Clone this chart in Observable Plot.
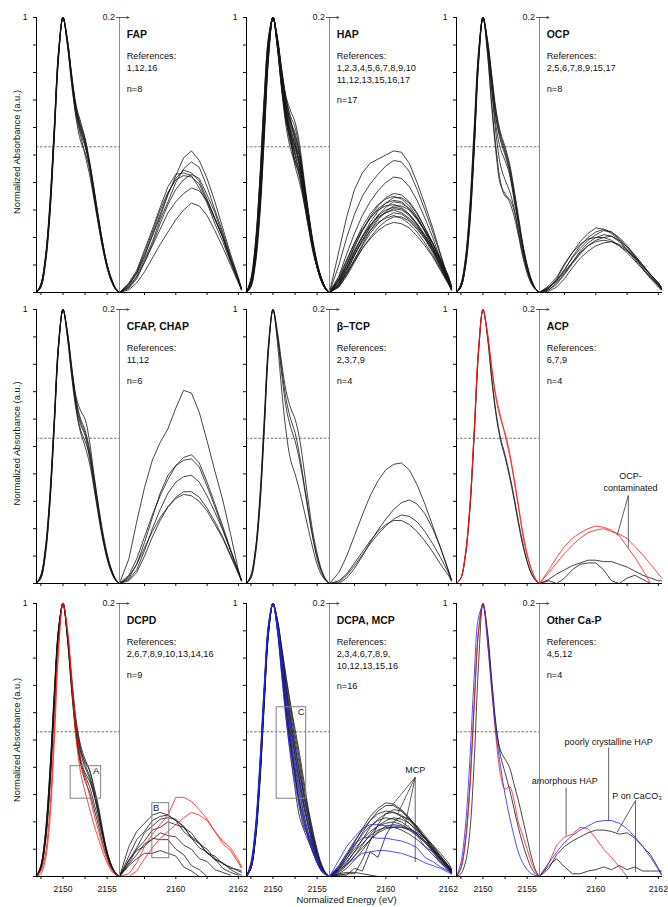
<!DOCTYPE html>
<html><head><meta charset="utf-8">
<script src="https://cdn.jsdelivr.net/npm/d3@7"></script>
<script src="https://cdn.jsdelivr.net/npm/@observablehq/plot@0.6"></script>
<style>
body{margin:0;background:#fff;}
#chart{position:relative;width:668px;height:907px;background:#fff;}
#chart svg{position:absolute;}
</style></head><body><div id="chart"></div>
<script>
// ---------- shared grids / ticks ----------
const LEFT_E = [2147, 2147.5, 2148, 2148.5, 2149, 2149.5, 2150, 2150.5, 2151, 2151.5, 2152, 2152.5, 2153, 2153.5, 2154, 2154.5, 2155, 2155.5, 2156, 2156.4];
const RIGHT_E = [2158.2, 2158.5, 2158.75, 2159, 2159.25, 2159.5, 2159.75, 2160, 2160.25, 2160.5, 2160.75, 2161, 2161.25, 2161.5, 2161.75, 2162, 2162.1];
const X_DOMAIN = [2147, 2156.4, 2158.2, 2162.1];
const X_TICKS = [2147.5, 2150, 2152.5, 2155, 2159, 2160, 2161, 2162];
const X_TICK_LABELS = [2150, 2155, 2160, 2162];
const Y_TICKS = [0, 0.1, 0.2, 0.3, 0.4, 0.5, 0.6, 0.7, 0.8, 0.9, 1];
const RIGHT_TOP = 0.2;
const DASH_LEVEL = 0.53;
const TEXT_E = 2158.43;

// ---------- FAP ----------
const FAP_refs = ["1,12,16"];
const FAP_colors = ["k","k","k","k","k","k","k","k"];
const FAP_left = [
[0,0.03,0.12,0.30,0.58,0.87,1,0.91,0.77,0.66,0.60,0.54,0.46,0.36,0.26,0.17,0.10,0.045,0.012,0],
[0,0.02,0.10,0.27,0.55,0.85,1,0.92,0.79,0.68,0.62,0.56,0.47,0.37,0.27,0.18,0.10,0.05,0.015,0],
[0,0.03,0.13,0.32,0.60,0.88,1,0.90,0.75,0.64,0.57,0.50,0.43,0.34,0.25,0.16,0.09,0.04,0.01,0],
[0,0.02,0.11,0.29,0.57,0.86,1,0.92,0.78,0.66,0.58,0.53,0.47,0.38,0.28,0.18,0.10,0.045,0.012,0],
[0,0.03,0.12,0.31,0.59,0.88,1,0.90,0.76,0.63,0.55,0.51,0.45,0.36,0.26,0.17,0.09,0.04,0.01,0],
[0,0.02,0.11,0.28,0.56,0.86,1,0.92,0.78,0.67,0.61,0.56,0.48,0.38,0.27,0.18,0.10,0.05,0.012,0],
[0,0.03,0.12,0.30,0.58,0.87,1,0.91,0.77,0.65,0.59,0.54,0.46,0.35,0.25,0.16,0.09,0.04,0.01,0],
[0,0.02,0.11,0.29,0.57,0.87,1,0.91,0.78,0.67,0.60,0.55,0.47,0.37,0.27,0.17,0.10,0.045,0.012,0]];
const FAP_right = [
[0,0.006,0.014,0.027,0.041,0.055,0.071,0.085,0.098,0.103,0.096,0.083,0.066,0.047,0.028,0.011,0.003],
[0,0.004,0.012,0.024,0.037,0.053,0.066,0.080,0.090,0.095,0.091,0.077,0.060,0.044,0.026,0.010,0.003],
[0,0.005,0.014,0.026,0.042,0.057,0.072,0.083,0.089,0.087,0.081,0.068,0.054,0.041,0.024,0.009,0.002],
[0,0.007,0.016,0.031,0.046,0.062,0.077,0.086,0.087,0.085,0.076,0.065,0.050,0.037,0.022,0.008,0.002],
[0,0.003,0.010,0.022,0.035,0.050,0.064,0.075,0.082,0.086,0.083,0.071,0.058,0.042,0.025,0.009,0.003],
[0,0.006,0.015,0.029,0.044,0.060,0.073,0.082,0.085,0.084,0.079,0.066,0.053,0.040,0.023,0.009,0.002],
[0,0.004,0.011,0.022,0.034,0.046,0.058,0.066,0.072,0.076,0.074,0.067,0.054,0.040,0.024,0.008,0.002],
[0,0.002,0.007,0.015,0.025,0.035,0.044,0.053,0.060,0.065,0.063,0.056,0.045,0.033,0.020,0.007,0.002]];

// ---------- HAP ----------
const HAP_refs = ["1,2,3,4,5,6,7,8,9,10", "11,12,13,15,16,17"];
const HAP_colors = ["k","k","k","k","k","k","k","k","k","k","k","k","k","k","k","k","k"];
const HAP_left = [
[0,0.03,0.12,0.30,0.58,0.87,1,0.92,0.80,0.70,0.64,0.60,0.52,0.40,0.29,0.19,0.11,0.05,0.015,0],
[0,0.04,0.15,0.36,0.65,0.90,1,0.90,0.76,0.64,0.57,0.50,0.44,0.35,0.25,0.16,0.09,0.04,0.01,0],
[0,0.03,0.13,0.33,0.62,0.89,1,0.91,0.77,0.65,0.56,0.46,0.40,0.33,0.24,0.16,0.09,0.04,0.01,0],
[0,0.05,0.17,0.40,0.70,0.93,1,0.89,0.74,0.62,0.54,0.48,0.42,0.34,0.25,0.16,0.09,0.04,0.01,0],
[0,0.02,0.10,0.27,0.55,0.85,1,0.93,0.81,0.71,0.66,0.62,0.54,0.42,0.30,0.19,0.11,0.05,0.015,0],
[0,0.03,0.13,0.32,0.61,0.88,1,0.91,0.78,0.67,0.60,0.53,0.47,0.37,0.27,0.17,0.10,0.045,0.012,0],
[0,0.04,0.14,0.35,0.64,0.90,1,0.90,0.76,0.64,0.55,0.48,0.45,0.37,0.27,0.17,0.10,0.045,0.012,0],
[0,0.03,0.12,0.31,0.60,0.88,1,0.92,0.79,0.68,0.61,0.56,0.49,0.38,0.28,0.18,0.10,0.05,0.012,0],
[0,0.04,0.16,0.38,0.67,0.91,1,0.90,0.75,0.63,0.56,0.51,0.46,0.37,0.27,0.17,0.10,0.045,0.012,0],
[0,0.03,0.12,0.30,0.59,0.87,1,0.92,0.80,0.69,0.62,0.57,0.51,0.40,0.29,0.18,0.10,0.05,0.015,0],
[0,0.05,0.18,0.41,0.71,0.93,1,0.89,0.73,0.60,0.52,0.47,0.43,0.35,0.26,0.17,0.10,0.045,0.012,0],
[0,0.03,0.13,0.33,0.62,0.89,1,0.91,0.78,0.66,0.58,0.52,0.48,0.39,0.28,0.18,0.10,0.05,0.012,0],
[0,0.02,0.11,0.29,0.57,0.86,1,0.92,0.80,0.70,0.63,0.55,0.47,0.38,0.28,0.18,0.10,0.045,0.012,0],
[0,0.04,0.15,0.36,0.66,0.91,1,0.90,0.76,0.65,0.58,0.53,0.50,0.40,0.29,0.18,0.10,0.05,0.012,0],
[0,0.03,0.14,0.34,0.63,0.89,1,0.91,0.77,0.66,0.59,0.54,0.46,0.36,0.26,0.17,0.09,0.04,0.01,0],
[0,0.04,0.16,0.39,0.69,0.92,1,0.89,0.74,0.62,0.55,0.50,0.43,0.33,0.24,0.15,0.09,0.04,0.01,0],
[0,0.03,0.12,0.31,0.60,0.88,1,0.92,0.79,0.68,0.62,0.58,0.50,0.39,0.28,0.18,0.10,0.05,0.012,0]];
const HAP_right = [
[0,0.030,0.055,0.075,0.087,0.094,0.097,0.100,0.103,0.102,0.094,0.080,0.064,0.047,0.028,0.010,0.003],
[0,0.020,0.040,0.057,0.070,0.079,0.086,0.092,0.096,0.095,0.088,0.075,0.060,0.044,0.027,0.010,0.003],
[0,0.012,0.028,0.043,0.056,0.066,0.074,0.080,0.084,0.083,0.077,0.067,0.054,0.040,0.024,0.009,0.002],
[0,0.008,0.020,0.033,0.045,0.055,0.063,0.069,0.072,0.071,0.066,0.058,0.047,0.036,0.023,0.010,0.004],
[0,0.010,0.023,0.036,0.048,0.057,0.064,0.068,0.070,0.068,0.063,0.055,0.045,0.033,0.020,0.008,0.002],
[0,0.006,0.017,0.029,0.041,0.051,0.059,0.065,0.069,0.069,0.065,0.057,0.047,0.036,0.022,0.008,0.002],
[0,0.009,0.021,0.034,0.045,0.054,0.061,0.065,0.067,0.066,0.061,0.054,0.045,0.035,0.024,0.012,0.005],
[0,0.005,0.015,0.027,0.038,0.048,0.056,0.062,0.066,0.065,0.061,0.054,0.044,0.033,0.021,0.008,0.002],
[0,0.011,0.024,0.036,0.046,0.054,0.060,0.063,0.064,0.062,0.057,0.050,0.041,0.031,0.019,0.007,0.002],
[0,0.004,0.013,0.024,0.035,0.045,0.053,0.059,0.063,0.063,0.060,0.053,0.045,0.036,0.025,0.012,0.004],
[0,0.007,0.018,0.030,0.040,0.049,0.056,0.060,0.062,0.061,0.057,0.050,0.042,0.032,0.020,0.008,0.002],
[0,0.006,0.016,0.027,0.038,0.047,0.054,0.058,0.061,0.060,0.056,0.049,0.040,0.030,0.019,0.007,0.002],
[0,0.009,0.020,0.031,0.041,0.049,0.055,0.058,0.060,0.058,0.054,0.048,0.041,0.033,0.023,0.011,0.004],
[0,0.005,0.014,0.024,0.034,0.043,0.050,0.055,0.058,0.057,0.053,0.047,0.039,0.029,0.018,0.007,0.002],
[0,0.008,0.018,0.028,0.037,0.045,0.051,0.054,0.056,0.054,0.050,0.044,0.036,0.027,0.017,0.007,0.002],
[0,0.004,0.012,0.022,0.032,0.040,0.047,0.052,0.055,0.055,0.052,0.046,0.039,0.031,0.021,0.010,0.003],
[0,0.006,0.014,0.023,0.032,0.039,0.045,0.049,0.051,0.050,0.047,0.041,0.034,0.026,0.016,0.006,0.002]];

// ---------- OCP ----------
const OCP_refs = ["2,5,6,7,8,9,15,17"];
const OCP_colors = ["k","k","k","k","k","k","k","k"];
const OCP_left = [
[0,0.02,0.09,0.25,0.52,0.84,1,0.88,0.68,0.52,0.40,0.35,0.34,0.30,0.22,0.14,0.08,0.035,0.01,0],
[0,0.02,0.10,0.27,0.55,0.86,1,0.87,0.67,0.50,0.39,0.36,0.33,0.28,0.21,0.13,0.07,0.03,0.01,0],
[0,0.03,0.12,0.30,0.58,0.87,1,0.90,0.74,0.60,0.52,0.48,0.43,0.34,0.25,0.16,0.09,0.04,0.01,0],
[0,0.02,0.10,0.27,0.54,0.85,1,0.91,0.77,0.63,0.55,0.50,0.44,0.35,0.26,0.17,0.09,0.04,0.01,0],
[0,0.03,0.11,0.28,0.56,0.86,1,0.92,0.78,0.65,0.57,0.52,0.46,0.37,0.27,0.17,0.10,0.045,0.012,0],
[0,0.02,0.09,0.24,0.51,0.83,1,0.90,0.73,0.57,0.46,0.41,0.37,0.31,0.23,0.15,0.08,0.035,0.01,0],
[0,0.03,0.12,0.31,0.60,0.88,1,0.91,0.76,0.63,0.56,0.51,0.45,0.36,0.26,0.17,0.09,0.04,0.01,0],
[0,0.02,0.10,0.26,0.53,0.85,1,0.92,0.79,0.66,0.58,0.53,0.47,0.38,0.28,0.18,0.10,0.045,0.012,0]];
const OCP_right = [
[0,0.003,0.010,0.020,0.029,0.037,0.043,0.047,0.046,0.043,0.038,0.031,0.024,0.017,0.010,0.004,0.002],
[0,0.004,0.008,0.016,0.026,0.034,0.040,0.044,0.046,0.044,0.039,0.033,0.026,0.018,0.011,0.005,0.002],
[0,0.002,0.006,0.013,0.021,0.028,0.034,0.038,0.040,0.041,0.038,0.033,0.027,0.020,0.012,0.005,0.002],
[0,0.005,0.011,0.021,0.029,0.035,0.039,0.040,0.040,0.038,0.034,0.029,0.023,0.017,0.011,0.006,0.003],
[0,0.001,0.004,0.010,0.018,0.025,0.030,0.034,0.036,0.037,0.035,0.031,0.026,0.020,0.013,0.007,0.003],
[0,0.003,0.009,0.017,0.025,0.032,0.038,0.042,0.045,0.044,0.040,0.034,0.027,0.020,0.013,0.006,0.002],
[0,0.004,0.009,0.015,0.022,0.029,0.034,0.037,0.038,0.037,0.034,0.030,0.025,0.019,0.013,0.007,0.004],
[0,0.002,0.007,0.014,0.022,0.030,0.036,0.040,0.042,0.041,0.037,0.031,0.025,0.019,0.013,0.007,0.003]];

// ---------- CFAP, CHAP ----------
const CFAP_refs = ["11,12"];
const CFAP_colors = ["k","k","k","k","k","k"];
const CFAP_left = [
[0,0.03,0.12,0.30,0.58,0.87,1,0.91,0.78,0.68,0.63,0.60,0.52,0.40,0.29,0.19,0.11,0.05,0.015,0],
[0,0.02,0.11,0.29,0.57,0.86,1,0.92,0.79,0.67,0.60,0.56,0.49,0.39,0.28,0.18,0.10,0.05,0.012,0],
[0,0.03,0.12,0.31,0.59,0.88,1,0.90,0.76,0.64,0.56,0.52,0.47,0.38,0.27,0.17,0.10,0.045,0.012,0],
[0,0.02,0.10,0.28,0.56,0.86,1,0.91,0.77,0.65,0.58,0.54,0.46,0.36,0.26,0.17,0.09,0.04,0.01,0],
[0,0.03,0.13,0.32,0.60,0.88,1,0.90,0.75,0.63,0.55,0.50,0.44,0.35,0.25,0.16,0.09,0.04,0.01,0],
[0,0.02,0.11,0.29,0.57,0.87,1,0.92,0.78,0.66,0.59,0.55,0.48,0.37,0.27,0.17,0.10,0.045,0.012,0]];
const CFAP_right = [
[0,0.018,0.045,0.070,0.090,0.103,0.113,0.128,0.141,0.139,0.125,0.104,0.082,0.061,0.036,0.010,0.002],
[0,0.006,0.018,0.034,0.050,0.064,0.076,0.086,0.092,0.094,0.088,0.074,0.058,0.042,0.025,0.009,0.002],
[0,0.004,0.014,0.030,0.048,0.066,0.079,0.086,0.090,0.091,0.085,0.071,0.056,0.040,0.024,0.008,0.002],
[0,0.003,0.010,0.024,0.040,0.054,0.066,0.074,0.078,0.079,0.074,0.064,0.052,0.039,0.024,0.009,0.002],
[0,0.002,0.008,0.020,0.034,0.046,0.056,0.063,0.067,0.067,0.063,0.055,0.045,0.034,0.021,0.008,0.002],
[0,0.005,0.014,0.026,0.038,0.048,0.056,0.062,0.065,0.064,0.060,0.053,0.043,0.033,0.020,0.007,0.002]];

// ---------- beta-TCP ----------
const TCP_refs = ["2,3,7,9"];
const TCP_colors = ["k","k","k","k"];
const TCP_left = [
[0,0.03,0.12,0.30,0.58,0.87,1,0.88,0.70,0.55,0.45,0.40,0.34,0.27,0.20,0.13,0.07,0.03,0.01,0],
[0,0.02,0.11,0.28,0.56,0.86,1,0.92,0.80,0.70,0.64,0.60,0.53,0.42,0.30,0.19,0.11,0.05,0.015,0],
[0,0.03,0.12,0.31,0.60,0.88,1,0.90,0.76,0.64,0.57,0.52,0.45,0.36,0.26,0.17,0.09,0.04,0.01,0],
[0,0.02,0.10,0.27,0.55,0.85,1,0.91,0.78,0.67,0.60,0.55,0.47,0.37,0.27,0.17,0.10,0.045,0.012,0]];
const TCP_right = [
[0,0.008,0.020,0.035,0.050,0.064,0.075,0.083,0.087,0.088,0.083,0.072,0.058,0.042,0.026,0.009,0.002],
[0,0.000,0.004,0.011,0.020,0.030,0.039,0.047,0.054,0.059,0.061,0.058,0.051,0.040,0.026,0.010,0.003],
[0,0.001,0.006,0.013,0.021,0.029,0.036,0.042,0.047,0.050,0.049,0.045,0.038,0.029,0.019,0.008,0.002],
[0,0.002,0.007,0.015,0.023,0.031,0.038,0.043,0.046,0.046,0.043,0.038,0.031,0.023,0.014,0.006,0.002]];

// ---------- ACP ----------
const ACP_refs = ["6,7,9"];
const ACP_colors = ["k","k","r","r"];
const ACP_left = [
[0,0.02,0.10,0.26,0.53,0.84,1,0.90,0.74,0.61,0.52,0.46,0.39,0.31,0.22,0.14,0.08,0.035,0.01,0],
[0,0.02,0.10,0.27,0.55,0.85,1,0.91,0.75,0.62,0.53,0.47,0.40,0.32,0.23,0.15,0.08,0.035,0.01,0],
[0,0.02,0.10,0.27,0.55,0.86,1,0.92,0.79,0.67,0.60,0.55,0.48,0.39,0.29,0.19,0.11,0.05,0.015,0],
[0,0.02,0.11,0.28,0.56,0.86,1,0.91,0.78,0.68,0.61,0.54,0.47,0.38,0.28,0.18,0.10,0.05,0.012,0]];
const ACP_right = [
[0,0.003,0.007,0.010,0.013,0.015,0.017,0.017,0.016,0.016,0.014,0.012,0.009,0.006,0.004,0.002,0.002],
[0,0.002,0.000,0.004,0.010,0.014,0.015,0.015,0.010,0.002,0.000,0.004,0.006,0.003,0.000],
[0,0.010,0.019,0.027,0.033,0.037,0.040,0.042,0.041,0.039,0.035,0.027,0.019,0.010,0.000],
[0,0.008,0.015,0.022,0.028,0.033,0.037,0.039,0.040,0.038,0.036,0.033,0.027,0.021,0.014,0.007,0.004]];
const ACP_labels = [{text: "OCP-\ncontaminated", e: 2161.11, v: 0.0745}];
const ACP_leaders = [
  {e1: 2161.04, v1: 0.0642, e2: 2160.68, v2: 0.035},
  {e1: 2161.04, v1: 0.0642, e2: 2161.04, v2: 0.0263}];

// ---------- DCPD ----------
const DCPD_refs = ["2,6,7,8,9,10,13,14,16"];
const DCPD_colors = ["k","k","k","k","k","k","k","r","r"];
const DCPD_left = [
[0,0.03,0.13,0.33,0.62,0.89,1,0.88,0.68,0.52,0.42,0.37,0.33,0.27,0.21,0.14,0.08,0.035,0.01,0],
[0,0.04,0.15,0.36,0.65,0.90,1,0.88,0.69,0.53,0.43,0.38,0.35,0.30,0.23,0.15,0.08,0.035,0.01,0],
[0,0.03,0.12,0.31,0.60,0.88,1,0.89,0.71,0.56,0.47,0.41,0.37,0.31,0.24,0.16,0.09,0.04,0.01,0],
[0,0.04,0.16,0.38,0.67,0.91,1,0.87,0.67,0.51,0.41,0.35,0.31,0.25,0.19,0.12,0.07,0.03,0.01,0],
[0,0.03,0.13,0.34,0.63,0.90,1,0.89,0.70,0.55,0.46,0.42,0.39,0.33,0.26,0.17,0.09,0.04,0.01,0],
[0,0.03,0.14,0.35,0.64,0.90,1,0.88,0.70,0.54,0.45,0.40,0.36,0.30,0.23,0.15,0.08,0.035,0.01,0],
[0,0.04,0.15,0.37,0.66,0.91,1,0.89,0.72,0.57,0.48,0.43,0.39,0.32,0.25,0.16,0.09,0.04,0.012,0],
[0,0.01,0.06,0.20,0.48,0.82,1,0.90,0.70,0.50,0.38,0.31,0.25,0.19,0.14,0.09,0.05,0.02,0.005,0],
[0,0.02,0.08,0.24,0.53,0.85,1,0.91,0.73,0.55,0.43,0.36,0.30,0.23,0.17,0.11,0.06,0.025,0.006,0]];
const DCPD_right = [
[0,0.022,0.033,0.039,0.045,0.047,0.045,0.041,0.033,0.028,0.021,0.018,0.012,0.010,0.006,0.005,0.004],
[0,0.015,0.027,0.033,0.041,0.044,0.045,0.041,0.037,0.028,0.024,0.017,0.015,0.009,0.007,0.004,0.003],
[0,0.012,0.021,0.032,0.037,0.042,0.043,0.042,0.036,0.032,0.024,0.020,0.013,0.010,0.005,0.002,0.001],
[0,0.010,0.020,0.026,0.034,0.036,0.040,0.038,0.036,0.029,0.025,0.017,0.013,0.006,0.003,0.001],
[0,0.009,0.016,0.024,0.027,0.032,0.030,0.029,0.023,0.020,0.013,0.011,0.005,0.003,0.001],
[0,0.012,0.019,0.022,0.028,0.027,0.027,0.020,0.016,0.008,0.005,0.000],
[0,0.008,0.013,0.017,0.017,0.019,0.017,0.015,0.007,0.004,0.000],
[0,0.002,0.010,0.022,0.031,0.038,0.045,0.058,0.058,0.055,0.049,0.042,0.033,0.026,0.021,0.012,0.007],
[0,0.000,0.004,0.013,0.021,0.028,0.033,0.038,0.043,0.047,0.045,0.041,0.033,0.024,0.019,0.010,0.006]];
const DCPD_boxes = [
  {label: "A", side: "left", e1: 2150.87, e2: 2154.32, v1: 0.285, v2: 0.404, le: 2153.76, lv: 0.386},
  {label: "B", side: "right", e1: 2159.25, e2: 2159.79, v1: 0.0134, v2: 0.0537, le: 2159.37, lv: 0.050}];

// ---------- DCPA, MCP ----------
const DCPA_refs = ["2,3,4,6,7,8,9,", "10,12,13,15,16"];
const DCPA_colors = ["k","k","k","k","k","k","k","k","k","k","k","k","k","b","b","b"];
const DCPA_left = [
[0,0.04,0.15,0.37,0.66,0.91,1,0.92,0.78,0.64,0.52,0.42,0.33,0.25,0.18,0.12,0.07,0.03,0.01,0],
[0,0.04,0.16,0.38,0.67,0.91,1,0.93,0.81,0.68,0.57,0.47,0.38,0.29,0.21,0.14,0.08,0.035,0.01,0],
[0,0.03,0.14,0.35,0.64,0.90,1,0.94,0.83,0.72,0.62,0.52,0.43,0.33,0.24,0.16,0.09,0.04,0.012,0],
[0,0.04,0.15,0.36,0.65,0.90,1,0.91,0.75,0.60,0.47,0.36,0.27,0.20,0.14,0.09,0.05,0.02,0.006,0],
[0,0.05,0.17,0.40,0.69,0.92,1,0.90,0.74,0.58,0.44,0.32,0.22,0.17,0.13,0.09,0.05,0.02,0.006,0],
[0,0.03,0.13,0.34,0.63,0.89,1,0.93,0.80,0.67,0.55,0.45,0.35,0.27,0.19,0.13,0.07,0.03,0.01,0],
[0,0.04,0.15,0.37,0.66,0.91,1,0.92,0.79,0.66,0.54,0.44,0.35,0.26,0.19,0.12,0.07,0.03,0.01,0],
[0,0.03,0.14,0.35,0.65,0.90,1,0.94,0.84,0.73,0.63,0.54,0.45,0.35,0.25,0.17,0.10,0.045,0.012,0],
[0,0.04,0.16,0.39,0.68,0.92,1,0.91,0.76,0.61,0.48,0.37,0.26,0.18,0.15,0.11,0.06,0.025,0.008,0],
[0,0.03,0.14,0.36,0.65,0.90,1,0.93,0.81,0.69,0.58,0.48,0.39,0.30,0.22,0.14,0.08,0.035,0.01,0],
[0,0.04,0.15,0.37,0.66,0.91,1,0.92,0.77,0.62,0.50,0.40,0.31,0.23,0.16,0.11,0.06,0.025,0.008,0],
[0,0.03,0.13,0.33,0.62,0.89,1,0.94,0.82,0.70,0.60,0.50,0.41,0.31,0.23,0.15,0.09,0.04,0.01,0],
[0,0.04,0.16,0.38,0.67,0.91,1,0.91,0.76,0.62,0.49,0.38,0.28,0.21,0.15,0.10,0.06,0.025,0.008,0],
[0,0.04,0.16,0.38,0.67,0.92,1,0.92,0.77,0.62,0.50,0.39,0.30,0.22,0.16,0.10,0.06,0.025,0.008,0],
[0,0.05,0.18,0.41,0.70,0.93,1,0.90,0.73,0.57,0.44,0.34,0.25,0.19,0.14,0.09,0.05,0.02,0.006,0],
[0,0.04,0.15,0.37,0.66,0.91,1,0.93,0.80,0.66,0.55,0.45,0.36,0.27,0.19,0.12,0.07,0.03,0.01,0]];
const DCPA_right = [
[0,0.006,0.015,0.025,0.035,0.044,0.050,0.054,0.053,0.049,0.043,0.036,0.028,0.020,0.013,0.006,0.003],
[0,0.005,0.013,0.022,0.032,0.041,0.048,0.052,0.052,0.048,0.042,0.035,0.028,0.021,0.014,0.007,0.004],
[0,0.008,0.017,0.026,0.034,0.041,0.046,0.048,0.047,0.044,0.039,0.033,0.026,0.019,0.012,0.006,0.003],
[0,0.004,0.010,0.018,0.027,0.036,0.042,0.046,0.047,0.045,0.041,0.035,0.029,0.022,0.015,0.008,0.005],
[0,0.007,0.015,0.023,0.031,0.037,0.041,0.043,0.042,0.040,0.036,0.031,0.025,0.018,0.011,0.005,0.002],
[0,0.003,0.008,0.015,0.023,0.031,0.037,0.041,0.043,0.042,0.039,0.034,0.028,0.021,0.014,0.008,0.005],
[0,0.006,0.013,0.020,0.027,0.033,0.037,0.039,0.040,0.038,0.035,0.031,0.026,0.020,0.013,0.007,0.004],
[0,0.002,0.006,0.012,0.019,0.027,0.033,0.037,0.038,0.037,0.034,0.030,0.025,0.019,0.013,0.007,0.003],
[0,0.005,0.011,0.018,0.024,0.030,0.034,0.036,0.036,0.034,0.031,0.027,0.022,0.016,0.010,0.005,0.002],
[0,0.001,0.002,0.002,0.012,0.026,0.038,0.046,0.049,0.048,0.043,0.036,0.028,0.020,0.012,0.006,0.003],
[0,0.001,0.001,0.006,0.004,0.018,0.014,0.030,0.040,0.044,0.042,0.037,0.030,0.023,0.015,0.008,0.004],
[0,0.004,0.009,0.015,0.021,0.027,0.032,0.035,0.036,0.036,0.035,0.032,0.028,0.023,0.017,0.010,0.006],
[0,0.002,0.003,0.003,0.002,0.001,0.000],
[0,0.012,0.022,0.029,0.035,0.038,0.038,0.037,0.037,0.036,0.034,0.030,0.022,0.018,0.010,0.004,0.002],
[0,0.008,0.016,0.024,0.028,0.029,0.028,0.028,0.027,0.026,0.024,0.021,0.014,0.011,0.007,0.004,0.002],
[0,0.004,0.009,0.013,0.017,0.018,0.019,0.019,0.018,0.017,0.015,0.013,0.010,0.008,0.006,0.003,0.002]];
const DCPA_boxes = [
  {label: "C", side: "left", e1: 2150.42, e2: 2153.76, v1: 0.285, v2: 0.620, le: 2153.2, lv: 0.602}];
const DCPA_labels = [{text: "MCP", e: 2160.94, v: 0.0784}];
const DCPA_leaders = [
  {e1: 2160.94, v1: 0.0727, e2: 2160.22, v2: 0.0527},
  {e1: 2160.94, v1: 0.0727, e2: 2160.38, v2: 0.0459},
  {e1: 2160.94, v1: 0.0727, e2: 2160.59, v2: 0.0349},
  {e1: 2160.94, v1: 0.0727, e2: 2160.94, v2: 0.0105}];

// ---------- Other Ca-P ----------
const OTHER_refs = ["4,5,12"];
const OTHER_colors = ["k","k","r","b"];
const OTHER_left = [
[0,0.03,0.13,0.33,0.63,0.90,1,0.89,0.70,0.54,0.46,0.43,0.40,0.34,0.28,0.21,0.14,0.07,0.02,0],
[0,0.01,0.05,0.16,0.42,0.78,1,0.90,0.72,0.55,0.44,0.38,0.32,0.25,0.18,0.12,0.07,0.03,0.008,0],
[0,0.03,0.12,0.31,0.62,0.90,1,0.87,0.68,0.50,0.37,0.32,0.33,0.28,0.20,0.15,0.10,0.05,0.015,0],
[0,0.05,0.18,0.42,0.73,0.95,0.99,0.86,0.68,0.52,0.40,0.30,0.22,0.15,0.09,0.05,0.025,0.01,0.003,0]];
const OTHER_right = [
[0,0.006,0.016,0.022,0.026,0.029,0.032,0.034,0.034,0.033,0.031,0.032,0.028,0.022,0.016,0.006,0.002],
[0,0.008,0.013,0.007,0.002,0.002,0.004,0.005,0.007,0.005,0.008,0.005,0.007,0.004,0.004,0.004,0.004],
[0,0.010,0.023,0.029,0.031,0.036,0.035,0.028,0.020,0.014,0.007,0.000],
[0,0.010,0.018,0.025,0.030,0.034,0.037,0.040,0.041,0.041,0.039,0.035,0.029,0.022,0.014,0.005,0.001]];
const OTHER_labels = [
  {text: "amorphous HAP", e: 2159.01, v: 0.0708},
  {text: "poorly crystalline HAP", e: 2160.41, v: 0.0989},
  {text: "P on CaCO₃", e: 2161.32, v: 0.0598}];
const OTHER_leaders = [
  {e1: 2159.05, v1: 0.065, e2: 2159.05, v2: 0.030},
  {e1: 2160.41, v1: 0.0946, e2: 2160.41, v2: 0.041},
  {e1: 2161.27, v1: 0.0557, e2: 2160.68, v2: 0.0325},
  {e1: 2161.27, v1: 0.0557, e2: 2161.27, v2: 0.0032}];

// ---------- panel table ----------
const panels = [
  {row:0, col:0, title:"FAP", refs:FAP_refs, n:"n=8", left:FAP_left, right:FAP_right, colors:FAP_colors},
  {row:0, col:1, title:"HAP", refs:HAP_refs, n:"n=17", left:HAP_left, right:HAP_right, colors:HAP_colors},
  {row:0, col:2, title:"OCP", refs:OCP_refs, n:"n=8", left:OCP_left, right:OCP_right, colors:OCP_colors},
  {row:1, col:0, title:"CFAP, CHAP", refs:CFAP_refs, n:"n=6", left:CFAP_left, right:CFAP_right, colors:CFAP_colors},
  {row:1, col:1, title:"β–TCP", refs:TCP_refs, n:"n=4", left:TCP_left, right:TCP_right, colors:TCP_colors},
  {row:1, col:2, title:"ACP", refs:ACP_refs, n:"n=4", left:ACP_left, right:ACP_right, colors:ACP_colors, labels:ACP_labels, leaders:ACP_leaders},
  {row:2, col:0, title:"DCPD", refs:DCPD_refs, n:"n=9", left:DCPD_left, right:DCPD_right, colors:DCPD_colors, boxes:DCPD_boxes},
  {row:2, col:1, title:"DCPA, MCP", refs:DCPA_refs, n:"n=16", left:DCPA_left, right:DCPA_right, colors:DCPA_colors, boxes:DCPA_boxes, labels:DCPA_labels, leaders:DCPA_leaders},
  {row:2, col:2, title:"Other Ca-P", refs:OTHER_refs, n:"n=4", left:OTHER_left, right:OTHER_right, colors:OTHER_colors, labels:OTHER_labels, leaders:OTHER_leaders}
];

// ---------- layout & drawing ----------
const COLORS = {k: "#151515", r: "#ff1414", b: "#2323ff"};
const ROW_TOP = [17, 309, 603], ROW_BASE = [292, 583, 876];
const COL_W = 210, ML = 36, MT = 17, MB = 31;
const FONT = "'Liberation Sans', Arial, Helvetica, sans-serif";
// broken energy axis: energy -> linear plot coordinate (left part compressed, right part expanded)
const xPos = d3.scaleLinear(X_DOMAIN, [0, 83, 83, 205]);
const yR = d3.scaleLinear([0, RIGHT_TOP], [0, 1]);
const ident = v => v;
const tickLabel = new Map(X_TICKS.map(t => [xPos(t), X_TICK_LABELS.includes(t) ? String(t) : ""]));

function rows(vals, grid, conv) {
  return vals.slice(0, grid.length).map((v, j) => ({e: grid[j], v: conv(v)}));
}
const X = d => xPos(d.e);

function makePanel(p) {
  const top = ROW_TOP[p.row], base = ROW_BASE[p.row];
  const H = MT + (base - top) + MB;
  const W = ML + COL_W;
  const marks = [];
  marks.push(Plot.ruleY([DASH_LEVEL], {x1: xPos(X_DOMAIN[0]), x2: xPos(X_DOMAIN[1]), stroke: "#333", strokeWidth: 0.7, strokeDasharray: "2.5,1.6"}));
  const idx = p.colors.map((c, i) => i).sort((a, b) => (p.colors[a] === "k" ? 0 : 1) - (p.colors[b] === "k" ? 0 : 1) || a - b);
  for (const i of idx) {
    const col = COLORS[p.colors[i]];
    marks.push(Plot.line(rows(p.left[i], LEFT_E, ident), {x: X, y: "v", stroke: col, strokeWidth: 0.8, curve: "catmull-rom"}));
    marks.push(Plot.line(rows(p.right[i], RIGHT_E, yR), {x: X, y: "v", stroke: col, strokeWidth: 0.8, curve: "linear"}));
  }
  (p.boxes || []).forEach(b => {
    const conv = b.side === "right" ? yR : ident;
    marks.push(Plot.rect([b], {x1: d => xPos(d.e1), x2: d => xPos(d.e2), y1: d => conv(d.v1), y2: d => conv(d.v2), fill: "none", stroke: "#808080", strokeWidth: 1}));
    marks.push(Plot.text([b], {x: d => xPos(d.le), y: d => conv(d.lv), text: "label", fontSize: 9.5, fill: "#222", fontFamily: FONT}));
  });
  (p.leaders || []).forEach(l => {
    marks.push(Plot.link([l], {x1: d => xPos(d.e1), x2: d => xPos(d.e2), y1: d => yR(d.v1), y2: d => yR(d.v2), stroke: "#3a3a3a", strokeWidth: 0.8}));
  });
  (p.labels || []).forEach(l => {
    marks.push(Plot.text([l], {x: X, y: d => yR(d.v), text: "text", fontSize: 9, lineHeight: 1.3, fill: "#111", fontFamily: FONT}));
  });
  marks.push(Plot.ruleX([X_DOMAIN[2]], {x: d => xPos(d), stroke: "#8a8a8a", strokeWidth: 1}));
  marks.push(Plot.ruleX([X_DOMAIN[0]], {x: d => xPos(d), stroke: "#000", strokeWidth: 1}));
  marks.push(Plot.ruleY([0], {stroke: "#000", strokeWidth: 1}));
  marks.push(Plot.text([RIGHT_TOP], {x: xPos(X_DOMAIN[1]), y: d => yR(d), text: d => String(d), textAnchor: "end", dx: -4.5, fontSize: 9, fill: "#222", fontFamily: FONT}));
  marks.push(Plot.arrow([RIGHT_TOP], {x1: xPos(2156.05), x2: xPos(2158.5), y1: d => yR(d), y2: d => yR(d), stroke: "#333", strokeWidth: 0.8, headLength: 4, headAngle: 50}));
  const lines = [{t: p.title, dy: 17.5, bold: true}, {t: "References:", dy: 39}];
  p.refs.forEach((r, k) => lines.push({t: r, dy: 39 + 11.6 * (k + 1)}));
  lines.push({t: p.n, dy: 39 + 11.6 * p.refs.length + 20.5});
  for (const l of lines) {
    marks.push(Plot.text([l.t], {x: xPos(TEXT_E), y: 1, text: d => d, textAnchor: "start", lineAnchor: "middle", dy: l.dy,
      fontSize: l.bold ? 10.5 : 9.2, fontWeight: l.bold ? "bold" : "normal", fill: "#111", fontFamily: FONT}));
  }
  if (p.col === 0) {
    marks.push(Plot.text(["Normalized Absorbance (a.u.)"], {frameAnchor: "left", rotate: -90, dx: -19.3, dy: p.row < 2 ? -3 : 0,
      textAnchor: "middle", lineAnchor: "middle", fontSize: 9.4, fill: "#111", fontFamily: FONT}));
  }
  if (p.row === 2 && p.col === 1) {
    marks.push(Plot.text(["Normalized Energy (eV)"], {frameAnchor: "bottom", dx: -5, dy: 23,
      textAnchor: "middle", lineAnchor: "middle", fontSize: 9.4, fill: "#111", fontFamily: FONT}));
  }
  const svg = Plot.plot({
    width: W, height: H,
    marginLeft: ML, marginRight: p.col === 2 ? 4 : 0, marginTop: MT, marginBottom: MB,
    style: {background: "transparent", overflow: "visible", fontFamily: FONT, fontSize: "8.6px", color: "#111"},
    x: {type: "linear", domain: [0, 205], range: [ML, ML + 205], ticks: X_TICKS.map(xPos), tickSize: 3,
        tickFormat: v => (p.row === 2 ? (tickLabel.get(v) || "") : ""), label: null},
    y: {domain: [0, 1], ticks: Y_TICKS, tickSize: 3, tickFormat: d => d === 1 ? "1" : "", label: null},
    marks
  });
  svg.style.left = (COL_W * p.col) + "px";
  svg.style.top = (top - MT) + "px";
  return svg;
}

const chart = document.getElementById("chart");
for (const p of panels) chart.appendChild(makePanel(p));
</script>
</body></html>
